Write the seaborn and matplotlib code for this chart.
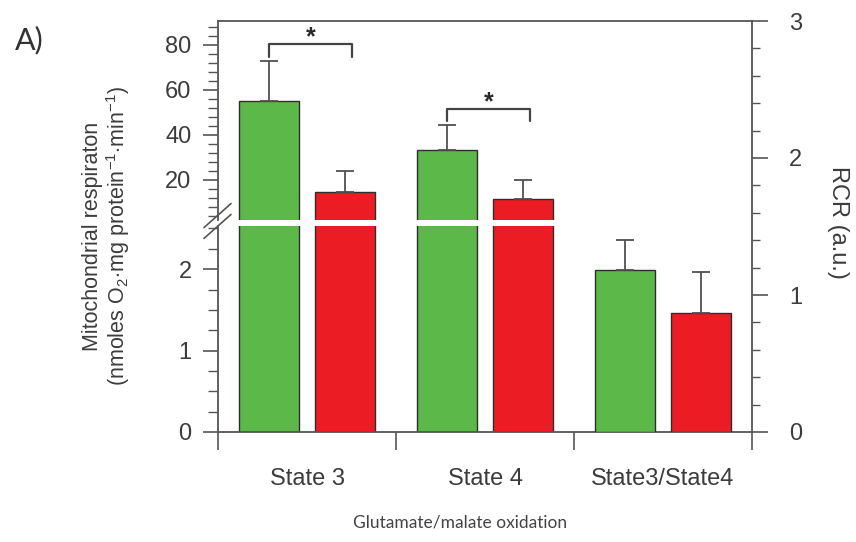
import matplotlib
matplotlib.use("Agg")
import matplotlib.pyplot as plt
from matplotlib.ticker import MultipleLocator, FixedLocator
from matplotlib.lines import Line2D
import pandas as pd
import seaborn as sns

# ---- data -------------------------------------------------------------
conditions = ["State 3", "State 4", "State3/State4"]
groups = ["Group A", "Group B"]

# mitochondrial respiration (nmoles O2 / mg protein / min)
resp_conditions = ["State 3", "State 4"]
resp_group_a = [55.1, 33.3]
resp_group_b = [14.7, 11.6]
resp_err_a = [17.8, 11.1]
resp_err_b = [9.3, 8.4]

# respiratory control ratio (State3/State4)
rcr_conditions = ["State3/State4"]
rcr_group_a = [1.18]
rcr_group_b = [0.87]
rcr_err_a = [0.22]
rcr_err_b = [0.30]

# significance brackets: (condition, star)
significance = [("State 3", "*"), ("State 4", "*")]

lower_ticks = [0, 1, 2]
upper_ticks = [20, 40, 60, 80]
rcr_ticks = [0, 1, 2, 3]

palette = {"Group A": "#5cb848", "Group B": "#ec1c24"}


def long_table(conds, a_vals, b_vals, a_err, b_err):
    rows = []
    for c, va, vb, ea, eb in zip(conds, a_vals, b_vals, a_err, b_err):
        rows.append({"condition": c, "group": groups[0], "value": va, "err": ea})
        rows.append({"condition": c, "group": groups[1], "value": vb, "err": eb})
    return pd.DataFrame(rows)


resp_df = long_table(resp_conditions, resp_group_a, resp_group_b, resp_err_a, resp_err_b)
rcr_df = long_table(rcr_conditions, rcr_group_a, rcr_group_b, rcr_err_a, rcr_err_b)

# ---- style ------------------------------------------------------------
sns.set_style("white")
plt.rcParams["font.family"] = ["Liberation Sans", "DejaVu Sans"]
plt.rcParams["mathtext.fontset"] = "custom"
plt.rcParams["mathtext.rm"] = "Liberation Sans"
plt.rcParams["mathtext.it"] = "Liberation Sans:italic"
plt.rcParams["mathtext.bf"] = "Liberation Sans:bold"
ink = "#3c3c3c"
spine_c = "#555555"
tick_fs = 17

W, H = 856, 542
fig = plt.figure(figsize=(W / 100, H / 100), dpi=100)
fig.patch.set_facecolor("white")

x0, x1 = 218 / W, 752 / W
y_bot = (H - 432) / H
y_gap_lo = (H - 226) / H
y_gap_hi = (H - 220) / H
y_top = (H - 21) / H

ax_low = fig.add_axes([x0, y_bot, x1 - x0, y_gap_lo - y_bot])
ax_up = fig.add_axes([x0, y_gap_hi, x1 - x0, y_top - y_gap_hi])
ax_rcr = fig.add_axes([x0, y_bot, x1 - x0, y_top - y_bot])
ax_rcr.patch.set_alpha(0)


def draw_bars(ax, df, with_errors):
    sns.barplot(data=df, x="condition", y="value", hue="group",
                order=conditions, hue_order=groups, palette=palette,
                errorbar=None, width=0.85, gap=0.21, saturation=1,
                edgecolor="#2e2e2e", linewidth=1.0, legend=False, ax=ax)
    centers = {}
    if not with_errors:
        return centers
    lookup = {(r.condition, r.group): r.err for r in df.itertuples()}
    for cont, grp in zip(ax.containers, groups):
        for bar in cont:
            h = bar.get_height()
            if h != h:
                continue
            cx = bar.get_x() + bar.get_width() / 2
            cond = conditions[int(round(cx))]
            centers[(cond, grp)] = (cx, h + lookup[(cond, grp)])
            ax.errorbar(cx, h, yerr=[[0], [lookup[(cond, grp)]]], fmt="none",
                        ecolor="#505050", elinewidth=1.3, capsize=6.5,
                        capthick=1.3, zorder=3, clip_on=False)
    return centers


draw_bars(ax_low, resp_df, with_errors=False)
centers = draw_bars(ax_up, resp_df, with_errors=True)
draw_bars(ax_rcr, rcr_df, with_errors=True)

for ax in (ax_low, ax_up, ax_rcr):
    ax.set_xlim(-0.5, len(conditions) - 0.5)
    ax.set_xlabel("")
    ax.set_ylabel("")
    for s in ax.spines.values():
        s.set_color(spine_c)
        s.set_linewidth(1.3)

# lower segment of the broken respiration axis
ax_low.set_ylim(0, 2.53)
ax_low.yaxis.set_major_locator(FixedLocator(lower_ticks))
ax_low.yaxis.set_minor_locator(MultipleLocator(0.25))
ax_low.spines[["top", "right"]].set_visible(False)
ax_low.set_xticks(range(len(conditions)))
ax_low.set_xticklabels(conditions)
ax_low.xaxis.set_minor_locator(FixedLocator([i - 0.5 for i in range(len(conditions) + 1)]))
ax_low.tick_params(axis="x", which="major", length=0, pad=26, labelsize=tick_fs, labelcolor=ink)
ax_low.tick_params(axis="x", which="minor", direction="out", length=13, width=1.2, color=spine_c, bottom=True)

# upper segment
ax_up.set_ylim(2.2, 90.6)
ax_up.yaxis.set_major_locator(FixedLocator(upper_ticks))
ax_up.yaxis.set_minor_locator(MultipleLocator(4))
ax_up.spines[["top", "right", "bottom"]].set_visible(False)
ax_up.set_xticks([])

for ax in (ax_low, ax_up):
    ax.tick_params(axis="y", which="major", direction="out", length=11, width=1.2,
                   color=spine_c, pad=8, labelsize=tick_fs, labelcolor=ink, left=True)
    ax.tick_params(axis="y", which="minor", direction="out", length=7, width=1.0,
                   color=spine_c, left=True)

# RCR axis on the right, spanning the full height
ax_rcr.set_ylim(0, 3.0)
ax_rcr.yaxis.tick_right()
ax_rcr.yaxis.set_major_locator(FixedLocator(rcr_ticks))
ax_rcr.yaxis.set_minor_locator(MultipleLocator(0.2))
ax_rcr.spines[["left", "bottom"]].set_visible(False)
ax_rcr.set_xticks([])
ax_rcr.tick_params(axis="y", which="major", direction="out", length=11.5, width=1.2,
                   color=spine_c, pad=15, labelsize=tick_fs, labelcolor=ink,
                   right=True, left=False)
ax_rcr.tick_params(axis="y", which="minor", direction="out", length=6, width=1.0,
                   color=spine_c, right=True, left=False)

# significance brackets
leg_drop = 5.5
for cond, star in significance:
    xa, ya = centers[(cond, groups[0])]
    xb, yb = centers[(cond, groups[1])]
    xb += 0.04
    top = ya + 7.3
    ax_up.plot([xa, xa, xb, xb], [top - leg_drop, top, top, top - leg_drop],
               color="#444444", lw=1.6, clip_on=False, zorder=4)
    ax_up.text((xa + xb) / 2, top + 3.0, star, ha="center", va="center",
               fontsize=18, color="#2a2a2a", fontweight="bold", clip_on=False)

# break marks on the left spine
for dy in (-0.01, 0.01):
    fig.add_artist(Line2D([204 / W, 231 / W],
                          [(H - 233) / H + dy, (H - 209) / H + dy],
                          color="#555555", lw=1.2))

# labels
fig.text(107 / W, 1 - 236 / H,
         "Mitochondrial respiraton\n(nmoles O$_2$$\\cdot$mg protein$^{-1}$$\\cdot$min$^{-1}$)",
         rotation=90, ha="center", va="center", fontsize=15.5, color=ink,
         linespacing=1.05, multialignment="center")
fig.text(838 / W, 1 - 222 / H, "RCR (a.u.)", rotation=270, ha="center", va="center",
         fontsize=17, color=ink)
fig.text(460 / W, 1 - 522 / H, "Glutamate/malate oxidation", ha="center", va="center",
         fontsize=12.5, color="#444444", family=["Lato", "DejaVu Sans"])
fig.text(15 / W, 1 - 40 / H, "A)", ha="left", va="center", fontsize=22,
         color="#333333", family=["Lato", "DejaVu Sans"])

fig.savefig("out.png", dpi=100, facecolor="white")
